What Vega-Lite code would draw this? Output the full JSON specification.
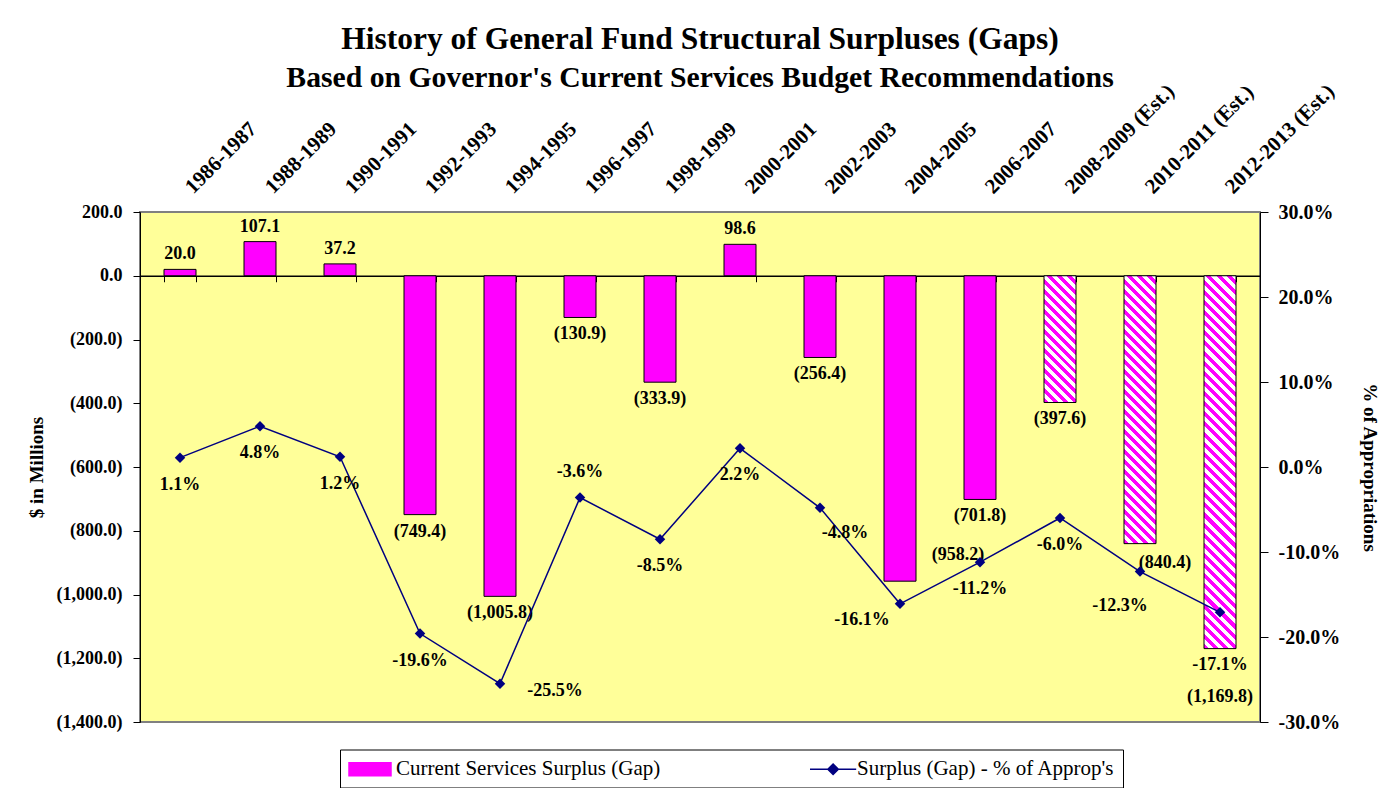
{
  "$schema": "https://vega.github.io/schema/vega-lite/v6.json",
  "width": 1120,
  "height": 510,
  "autosize": "none",
  "padding": {"left": 140, "top": 212, "right": 130, "bottom": 66},
  "background": "white",
  "title": {
    "text": "History of General Fund Structural Surpluses (Gaps)",
    "subtitle": "Based on Governor's Current Services Budget Recommendations",
    "font": "Liberation Serif", "fontSize": 31.5, "fontWeight": "bold", "color": "black",
    "subtitleFont": "Liberation Serif", "subtitleFontSize": 29.7, "subtitleFontWeight": "bold", "subtitleColor": "black",
    "subtitlePadding": 9, "anchor": "middle", "offset": -13
  },
  "data": {
    "values": [
      {"period": "1986-1987", "surplus": 20.0, "pct": 1.1},
      {"period": "1988-1989", "surplus": 107.1, "pct": 4.8},
      {"period": "1990-1991", "surplus": 37.2, "pct": 1.2},
      {"period": "1992-1993", "surplus": -749.4, "pct": -19.6},
      {"period": "1994-1995", "surplus": -1005.8, "pct": -25.5},
      {"period": "1996-1997", "surplus": -130.9, "pct": -3.6},
      {"period": "1998-1999", "surplus": -333.9, "pct": -8.5},
      {"period": "2000-2001", "surplus": 98.6, "pct": 2.2},
      {"period": "2002-2003", "surplus": -256.4, "pct": -4.8},
      {"period": "2004-2005", "surplus": -958.2, "pct": -16.1},
      {"period": "2006-2007", "surplus": -701.8, "pct": -11.2},
      {"period": "2008-2009 (Est.)", "surplus": -397.6, "pct": -6.0},
      {"period": "2010-2011 (Est.)", "surplus": -840.4, "pct": -12.3},
      {"period": "2012-2013 (Est.)", "surplus": -1169.8, "pct": -17.1}
    ]
  },
  "transform": [
    {"calculate": "datum.surplus < 0 ? '(' + format(-datum.surplus, ',.1f') + ')' : format(datum.surplus, ',.1f')", "as": "barLabel"},
    {"calculate": "(datum.pct < 0 ? '-' : '') + format(abs(datum.pct), '.1f') + '%'", "as": "pctLabel"}
  ],
  "layer": [
    {
      "encoding": {
        "x": {"field": "period", "type": "nominal", "sort": null, "scale": {"paddingInner": 0.6, "paddingOuter": 0.3}},
        "y": {"field": "surplus", "type": "quantitative", "scale": {"domain": [-1400, 200], "nice": false, "zero": false}}
      },
      "layer": [
        {
          "mark": {"type": "bar", "stroke": "black", "strokeWidth": 1},
          "encoding": {
            "x": {"field": "period", "type": "nominal", "sort": null,
              "scale": {"paddingInner": 0.6, "paddingOuter": 0.3},
              "axis": {"orient": "bottom", "offset": -446.25, "labels": false, "title": null,
                "domainColor": "black", "domainWidth": 1.5, "ticks": true, "tickColor": "black",
                "tickSize": 6, "tickBand": "extent", "grid": false}},
            "y": {"field": "surplus", "type": "quantitative",
              "scale": {"domain": [-1400, 200], "nice": false, "zero": false},
              "axis": {"orient": "left", "title": "$ in Millions",
                "values": [200, 0, -200, -400, -600, -800, -1000, -1200, -1400],
                "labelExpr": "datum.value < 0 ? '(' + format(-datum.value, ',.1f') + ')' : format(datum.value, ',.1f')",
                "tickSize": 7, "labelPadding": 11, "titlePadding": 10, "titleFontSize": 19,
                "domainColor": "black", "tickColor": "black", "grid": false}},
            "color": {
              "condition": [
                {"test": "datum.period === '2008-2009 (Est.)'", "value": {"gradient": "linear", "x1": 0, "y1": 1, "x2": 0.2973, "y2": -0.1774, "stops": [
                  {"offset":0,"color":"#f0f"},
                  {"offset":0.03125,"color":"#f0f"},{"offset":0.03125,"color":"#fff"},
                  {"offset":0.0625,"color":"#fff"},{"offset":0.0625,"color":"#f0f"},
                  {"offset":0.09375,"color":"#f0f"},{"offset":0.09375,"color":"#fff"},
                  {"offset":0.125,"color":"#fff"},{"offset":0.125,"color":"#f0f"},
                  {"offset":0.15625,"color":"#f0f"},{"offset":0.15625,"color":"#fff"},
                  {"offset":0.1875,"color":"#fff"},{"offset":0.1875,"color":"#f0f"},
                  {"offset":0.21875,"color":"#f0f"},{"offset":0.21875,"color":"#fff"},
                  {"offset":0.25,"color":"#fff"},{"offset":0.25,"color":"#f0f"},
                  {"offset":0.28125,"color":"#f0f"},{"offset":0.28125,"color":"#fff"},
                  {"offset":0.3125,"color":"#fff"},{"offset":0.3125,"color":"#f0f"},
                  {"offset":0.34375,"color":"#f0f"},{"offset":0.34375,"color":"#fff"},
                  {"offset":0.375,"color":"#fff"},{"offset":0.375,"color":"#f0f"},
                  {"offset":0.40625,"color":"#f0f"},{"offset":0.40625,"color":"#fff"},
                  {"offset":0.4375,"color":"#fff"},{"offset":0.4375,"color":"#f0f"},
                  {"offset":0.46875,"color":"#f0f"},{"offset":0.46875,"color":"#fff"},
                  {"offset":0.5,"color":"#fff"},{"offset":0.5,"color":"#f0f"},
                  {"offset":0.53125,"color":"#f0f"},{"offset":0.53125,"color":"#fff"},
                  {"offset":0.5625,"color":"#fff"},{"offset":0.5625,"color":"#f0f"},
                  {"offset":0.59375,"color":"#f0f"},{"offset":0.59375,"color":"#fff"},
                  {"offset":0.625,"color":"#fff"},{"offset":0.625,"color":"#f0f"},
                  {"offset":0.65625,"color":"#f0f"},{"offset":0.65625,"color":"#fff"},
                  {"offset":0.6875,"color":"#fff"},{"offset":0.6875,"color":"#f0f"},
                  {"offset":0.71875,"color":"#f0f"},{"offset":0.71875,"color":"#fff"},
                  {"offset":0.75,"color":"#fff"},{"offset":0.75,"color":"#f0f"},
                  {"offset":0.78125,"color":"#f0f"},{"offset":0.78125,"color":"#fff"},
                  {"offset":0.8125,"color":"#fff"},{"offset":0.8125,"color":"#f0f"},
                  {"offset":0.84375,"color":"#f0f"},{"offset":0.84375,"color":"#fff"},
                  {"offset":0.875,"color":"#fff"},{"offset":0.875,"color":"#f0f"},
                  {"offset":0.90625,"color":"#f0f"},{"offset":0.90625,"color":"#fff"},
                  {"offset":0.9375,"color":"#fff"},{"offset":0.9375,"color":"#f0f"},
                  {"offset":0.96875,"color":"#f0f"},{"offset":0.96875,"color":"#fff"},
                  {"offset":1,"color":"#fff"}]}},
                {"test": "datum.period === '2010-2011 (Est.)'", "value": {"gradient": "linear", "x1": 0, "y1": 1, "x2": 0.13185, "y2": -0.10371, "stops": [
                  {"offset":0,"color":"#f0f"},
                  {"offset":0.0167,"color":"#f0f"},{"offset":0.0167,"color":"#fff"},
                  {"offset":0.0333,"color":"#fff"},{"offset":0.0333,"color":"#f0f"},
                  {"offset":0.05,"color":"#f0f"},{"offset":0.05,"color":"#fff"},
                  {"offset":0.0667,"color":"#fff"},{"offset":0.0667,"color":"#f0f"},
                  {"offset":0.0833,"color":"#f0f"},{"offset":0.0833,"color":"#fff"},
                  {"offset":0.1,"color":"#fff"},{"offset":0.1,"color":"#f0f"},
                  {"offset":0.1167,"color":"#f0f"},{"offset":0.1167,"color":"#fff"},
                  {"offset":0.1333,"color":"#fff"},{"offset":0.1333,"color":"#f0f"},
                  {"offset":0.15,"color":"#f0f"},{"offset":0.15,"color":"#fff"},
                  {"offset":0.1667,"color":"#fff"},{"offset":0.1667,"color":"#f0f"},
                  {"offset":0.1833,"color":"#f0f"},{"offset":0.1833,"color":"#fff"},
                  {"offset":0.2,"color":"#fff"},{"offset":0.2,"color":"#f0f"},
                  {"offset":0.2167,"color":"#f0f"},{"offset":0.2167,"color":"#fff"},
                  {"offset":0.2333,"color":"#fff"},{"offset":0.2333,"color":"#f0f"},
                  {"offset":0.25,"color":"#f0f"},{"offset":0.25,"color":"#fff"},
                  {"offset":0.2667,"color":"#fff"},{"offset":0.2667,"color":"#f0f"},
                  {"offset":0.2833,"color":"#f0f"},{"offset":0.2833,"color":"#fff"},
                  {"offset":0.3,"color":"#fff"},{"offset":0.3,"color":"#f0f"},
                  {"offset":0.3167,"color":"#f0f"},{"offset":0.3167,"color":"#fff"},
                  {"offset":0.3333,"color":"#fff"},{"offset":0.3333,"color":"#f0f"},
                  {"offset":0.35,"color":"#f0f"},{"offset":0.35,"color":"#fff"},
                  {"offset":0.3667,"color":"#fff"},{"offset":0.3667,"color":"#f0f"},
                  {"offset":0.3833,"color":"#f0f"},{"offset":0.3833,"color":"#fff"},
                  {"offset":0.4,"color":"#fff"},{"offset":0.4,"color":"#f0f"},
                  {"offset":0.4167,"color":"#f0f"},{"offset":0.4167,"color":"#fff"},
                  {"offset":0.4333,"color":"#fff"},{"offset":0.4333,"color":"#f0f"},
                  {"offset":0.45,"color":"#f0f"},{"offset":0.45,"color":"#fff"},
                  {"offset":0.4667,"color":"#fff"},{"offset":0.4667,"color":"#f0f"},
                  {"offset":0.4833,"color":"#f0f"},{"offset":0.4833,"color":"#fff"},
                  {"offset":0.5,"color":"#fff"},{"offset":0.5,"color":"#f0f"},
                  {"offset":0.5167,"color":"#f0f"},{"offset":0.5167,"color":"#fff"},
                  {"offset":0.5333,"color":"#fff"},{"offset":0.5333,"color":"#f0f"},
                  {"offset":0.55,"color":"#f0f"},{"offset":0.55,"color":"#fff"},
                  {"offset":0.5667,"color":"#fff"},{"offset":0.5667,"color":"#f0f"},
                  {"offset":0.5833,"color":"#f0f"},{"offset":0.5833,"color":"#fff"},
                  {"offset":0.6,"color":"#fff"},{"offset":0.6,"color":"#f0f"},
                  {"offset":0.6167,"color":"#f0f"},{"offset":0.6167,"color":"#fff"},
                  {"offset":0.6333,"color":"#fff"},{"offset":0.6333,"color":"#f0f"},
                  {"offset":0.65,"color":"#f0f"},{"offset":0.65,"color":"#fff"},
                  {"offset":0.6667,"color":"#fff"},{"offset":0.6667,"color":"#f0f"},
                  {"offset":0.6833,"color":"#f0f"},{"offset":0.6833,"color":"#fff"},
                  {"offset":0.7,"color":"#fff"},{"offset":0.7,"color":"#f0f"},
                  {"offset":0.7167,"color":"#f0f"},{"offset":0.7167,"color":"#fff"},
                  {"offset":0.7333,"color":"#fff"},{"offset":0.7333,"color":"#f0f"},
                  {"offset":0.75,"color":"#f0f"},{"offset":0.75,"color":"#fff"},
                  {"offset":0.7667,"color":"#fff"},{"offset":0.7667,"color":"#f0f"},
                  {"offset":0.7833,"color":"#f0f"},{"offset":0.7833,"color":"#fff"},
                  {"offset":0.8,"color":"#fff"},{"offset":0.8,"color":"#f0f"},
                  {"offset":0.8167,"color":"#f0f"},{"offset":0.8167,"color":"#fff"},
                  {"offset":0.8333,"color":"#fff"},{"offset":0.8333,"color":"#f0f"},
                  {"offset":0.85,"color":"#f0f"},{"offset":0.85,"color":"#fff"},
                  {"offset":0.8667,"color":"#fff"},{"offset":0.8667,"color":"#f0f"},
                  {"offset":0.8833,"color":"#f0f"},{"offset":0.8833,"color":"#fff"},
                  {"offset":0.9,"color":"#fff"},{"offset":0.9,"color":"#f0f"},
                  {"offset":0.9167,"color":"#f0f"},{"offset":0.9167,"color":"#fff"},
                  {"offset":0.9333,"color":"#fff"},{"offset":0.9333,"color":"#f0f"},
                  {"offset":0.95,"color":"#f0f"},{"offset":0.95,"color":"#fff"},
                  {"offset":0.9667,"color":"#fff"},{"offset":0.9667,"color":"#f0f"},
                  {"offset":0.9833,"color":"#f0f"},{"offset":0.9833,"color":"#fff"},
                  {"offset":1,"color":"#fff"}]}},
                {"test": "datum.period === '2012-2013 (Est.)'", "value": {"gradient": "linear", "x1": 0, "y1": 1, "x2": 0.0925, "y2": -0.07789, "stops": [
                  {"offset":0,"color":"#f0f"},
                  {"offset":0.0125,"color":"#f0f"},{"offset":0.0125,"color":"#fff"},
                  {"offset":0.025,"color":"#fff"},{"offset":0.025,"color":"#f0f"},
                  {"offset":0.0375,"color":"#f0f"},{"offset":0.0375,"color":"#fff"},
                  {"offset":0.05,"color":"#fff"},{"offset":0.05,"color":"#f0f"},
                  {"offset":0.0625,"color":"#f0f"},{"offset":0.0625,"color":"#fff"},
                  {"offset":0.075,"color":"#fff"},{"offset":0.075,"color":"#f0f"},
                  {"offset":0.0875,"color":"#f0f"},{"offset":0.0875,"color":"#fff"},
                  {"offset":0.1,"color":"#fff"},{"offset":0.1,"color":"#f0f"},
                  {"offset":0.1125,"color":"#f0f"},{"offset":0.1125,"color":"#fff"},
                  {"offset":0.125,"color":"#fff"},{"offset":0.125,"color":"#f0f"},
                  {"offset":0.1375,"color":"#f0f"},{"offset":0.1375,"color":"#fff"},
                  {"offset":0.15,"color":"#fff"},{"offset":0.15,"color":"#f0f"},
                  {"offset":0.1625,"color":"#f0f"},{"offset":0.1625,"color":"#fff"},
                  {"offset":0.175,"color":"#fff"},{"offset":0.175,"color":"#f0f"},
                  {"offset":0.1875,"color":"#f0f"},{"offset":0.1875,"color":"#fff"},
                  {"offset":0.2,"color":"#fff"},{"offset":0.2,"color":"#f0f"},
                  {"offset":0.2125,"color":"#f0f"},{"offset":0.2125,"color":"#fff"},
                  {"offset":0.225,"color":"#fff"},{"offset":0.225,"color":"#f0f"},
                  {"offset":0.2375,"color":"#f0f"},{"offset":0.2375,"color":"#fff"},
                  {"offset":0.25,"color":"#fff"},{"offset":0.25,"color":"#f0f"},
                  {"offset":0.2625,"color":"#f0f"},{"offset":0.2625,"color":"#fff"},
                  {"offset":0.275,"color":"#fff"},{"offset":0.275,"color":"#f0f"},
                  {"offset":0.2875,"color":"#f0f"},{"offset":0.2875,"color":"#fff"},
                  {"offset":0.3,"color":"#fff"},{"offset":0.3,"color":"#f0f"},
                  {"offset":0.3125,"color":"#f0f"},{"offset":0.3125,"color":"#fff"},
                  {"offset":0.325,"color":"#fff"},{"offset":0.325,"color":"#f0f"},
                  {"offset":0.3375,"color":"#f0f"},{"offset":0.3375,"color":"#fff"},
                  {"offset":0.35,"color":"#fff"},{"offset":0.35,"color":"#f0f"},
                  {"offset":0.3625,"color":"#f0f"},{"offset":0.3625,"color":"#fff"},
                  {"offset":0.375,"color":"#fff"},{"offset":0.375,"color":"#f0f"},
                  {"offset":0.3875,"color":"#f0f"},{"offset":0.3875,"color":"#fff"},
                  {"offset":0.4,"color":"#fff"},{"offset":0.4,"color":"#f0f"},
                  {"offset":0.4125,"color":"#f0f"},{"offset":0.4125,"color":"#fff"},
                  {"offset":0.425,"color":"#fff"},{"offset":0.425,"color":"#f0f"},
                  {"offset":0.4375,"color":"#f0f"},{"offset":0.4375,"color":"#fff"},
                  {"offset":0.45,"color":"#fff"},{"offset":0.45,"color":"#f0f"},
                  {"offset":0.4625,"color":"#f0f"},{"offset":0.4625,"color":"#fff"},
                  {"offset":0.475,"color":"#fff"},{"offset":0.475,"color":"#f0f"},
                  {"offset":0.4875,"color":"#f0f"},{"offset":0.4875,"color":"#fff"},
                  {"offset":0.5,"color":"#fff"},{"offset":0.5,"color":"#f0f"},
                  {"offset":0.5125,"color":"#f0f"},{"offset":0.5125,"color":"#fff"},
                  {"offset":0.525,"color":"#fff"},{"offset":0.525,"color":"#f0f"},
                  {"offset":0.5375,"color":"#f0f"},{"offset":0.5375,"color":"#fff"},
                  {"offset":0.55,"color":"#fff"},{"offset":0.55,"color":"#f0f"},
                  {"offset":0.5625,"color":"#f0f"},{"offset":0.5625,"color":"#fff"},
                  {"offset":0.575,"color":"#fff"},{"offset":0.575,"color":"#f0f"},
                  {"offset":0.5875,"color":"#f0f"},{"offset":0.5875,"color":"#fff"},
                  {"offset":0.6,"color":"#fff"},{"offset":0.6,"color":"#f0f"},
                  {"offset":0.6125,"color":"#f0f"},{"offset":0.6125,"color":"#fff"},
                  {"offset":0.625,"color":"#fff"},{"offset":0.625,"color":"#f0f"},
                  {"offset":0.6375,"color":"#f0f"},{"offset":0.6375,"color":"#fff"},
                  {"offset":0.65,"color":"#fff"},{"offset":0.65,"color":"#f0f"},
                  {"offset":0.6625,"color":"#f0f"},{"offset":0.6625,"color":"#fff"},
                  {"offset":0.675,"color":"#fff"},{"offset":0.675,"color":"#f0f"},
                  {"offset":0.6875,"color":"#f0f"},{"offset":0.6875,"color":"#fff"},
                  {"offset":0.7,"color":"#fff"},{"offset":0.7,"color":"#f0f"},
                  {"offset":0.7125,"color":"#f0f"},{"offset":0.7125,"color":"#fff"},
                  {"offset":0.725,"color":"#fff"},{"offset":0.725,"color":"#f0f"},
                  {"offset":0.7375,"color":"#f0f"},{"offset":0.7375,"color":"#fff"},
                  {"offset":0.75,"color":"#fff"},{"offset":0.75,"color":"#f0f"},
                  {"offset":0.7625,"color":"#f0f"},{"offset":0.7625,"color":"#fff"},
                  {"offset":0.775,"color":"#fff"},{"offset":0.775,"color":"#f0f"},
                  {"offset":0.7875,"color":"#f0f"},{"offset":0.7875,"color":"#fff"},
                  {"offset":0.8,"color":"#fff"},{"offset":0.8,"color":"#f0f"},
                  {"offset":0.8125,"color":"#f0f"},{"offset":0.8125,"color":"#fff"},
                  {"offset":0.825,"color":"#fff"},{"offset":0.825,"color":"#f0f"},
                  {"offset":0.8375,"color":"#f0f"},{"offset":0.8375,"color":"#fff"},
                  {"offset":0.85,"color":"#fff"},{"offset":0.85,"color":"#f0f"},
                  {"offset":0.8625,"color":"#f0f"},{"offset":0.8625,"color":"#fff"},
                  {"offset":0.875,"color":"#fff"},{"offset":0.875,"color":"#f0f"},
                  {"offset":0.8875,"color":"#f0f"},{"offset":0.8875,"color":"#fff"},
                  {"offset":0.9,"color":"#fff"},{"offset":0.9,"color":"#f0f"},
                  {"offset":0.9125,"color":"#f0f"},{"offset":0.9125,"color":"#fff"},
                  {"offset":0.925,"color":"#fff"},{"offset":0.925,"color":"#f0f"},
                  {"offset":0.9375,"color":"#f0f"},{"offset":0.9375,"color":"#fff"},
                  {"offset":0.95,"color":"#fff"},{"offset":0.95,"color":"#f0f"},
                  {"offset":0.9625,"color":"#f0f"},{"offset":0.9625,"color":"#fff"},
                  {"offset":0.975,"color":"#fff"},{"offset":0.975,"color":"#f0f"},
                  {"offset":0.9875,"color":"#f0f"},{"offset":0.9875,"color":"#fff"},
                  {"offset":1,"color":"#fff"}]}}
              ],
              "datum": "Current Services Surplus (Gap)",
              "scale": {"domain": ["Current Services Surplus (Gap)", "Surplus (Gap) - % of Approp's"], "range": ["#ff00ff", "#000080"]},
              "legend": {
                "title": null, "orient": "none", "legendX": 200, "legendY": 537.5, "direction": "horizontal",
                "strokeColor": "black", "fillColor": "white", "padding": 8, "columnPadding": 146,
                "labelFont": "Liberation Serif", "labelFontSize": 21, "labelFontWeight": "normal", "labelColor": "black",
                "labelOffset": 25, "labelLimit": 600, "symbolSize": 441,
                "symbolType": "M-1,-0.62H3V0.62H-1Z", "symbolStrokeWidth": 1.5
              }
            }
          }
        },
        {
          "transform": [{"filter": "datum.surplus >= 0"}],
          "mark": {"type": "text", "baseline": "bottom", "dy": -6, "font": "Liberation Serif", "fontSize": 18, "fontWeight": "bold", "color": "black"},
          "encoding": {"text": {"field": "barLabel"}}
        },
        {
          "transform": [{"filter": "datum.surplus < 0 && indexof(['2004-2005', '2010-2011 (Est.)', '2012-2013 (Est.)'], datum.period) < 0"}],
          "mark": {"type": "text", "baseline": "top", "dy": 8, "font": "Liberation Serif", "fontSize": 18, "fontWeight": "bold", "color": "black"},
          "encoding": {"text": {"field": "barLabel"}}
        },
        {
          "transform": [{"filter": "datum.period === '2004-2005'"}],
          "mark": {"type": "text", "baseline": "middle", "dx": 58, "dy": -26, "font": "Liberation Serif", "fontSize": 18, "fontWeight": "bold", "color": "black"},
          "encoding": {"text": {"field": "barLabel"}}
        },
        {
          "transform": [{"filter": "datum.period === '2010-2011 (Est.)'"}],
          "mark": {"type": "text", "baseline": "middle", "dx": 25, "dy": 19, "font": "Liberation Serif", "fontSize": 18, "fontWeight": "bold", "color": "black"},
          "encoding": {"text": {"field": "barLabel"}}
        },
        {
          "transform": [{"filter": "datum.period === '2012-2013 (Est.)'"}],
          "mark": {"type": "text", "baseline": "middle", "dy": 48, "font": "Liberation Serif", "fontSize": 18, "fontWeight": "bold", "color": "black"},
          "encoding": {"text": {"field": "barLabel"}}
        }
      ]
    },
    {
      "encoding": {
        "x": {"field": "period", "type": "nominal", "sort": null, "scale": {"paddingInner": 0.6, "paddingOuter": 0.3}},
        "y": {"field": "pct", "type": "quantitative", "scale": {"domain": [-30, 30], "nice": false, "zero": false}}
      },
      "layer": [
        {
          "mark": {"type": "line", "strokeWidth": 1.5, "point": {"filled": true, "shape": "diamond", "size": 110}},
          "encoding": {
            "x": {"field": "period", "type": "nominal", "sort": null,
              "scale": {"paddingInner": 0.6, "paddingOuter": 0.3},
              "axis": {"orient": "top", "title": null, "labelAngle": -45, "labelAlign": "left", "labelBaseline": "middle",
                "ticks": false, "domain": false, "labelPadding": 22, "labelOffset": 9, "labelFontSize": 21, "grid": false}},
            "y": {"field": "pct", "type": "quantitative",
              "scale": {"domain": [-30, 30], "nice": false, "zero": false},
              "axis": {"orient": "right", "title": "% of Appropriations",
                "values": [30, 20, 10, 0, -10, -20, -30],
                "labelExpr": "(datum.value < 0 ? '-' : '') + format(abs(datum.value), '.1f') + '%'",
                "tickSize": 8, "labelPadding": 10, "titlePadding": 20, "labelFontSize": 20, "titleFontSize": 19,
                "domainColor": "black", "tickColor": "black", "grid": false}},
            "color": {"datum": "Surplus (Gap) - % of Approp's",
              "scale": {"domain": ["Current Services Surplus (Gap)", "Surplus (Gap) - % of Approp's"], "range": ["#ff00ff", "#000080"]}}
          }
        },
        {
          "mark": {"type": "point", "size": 0, "filled": true},
          "encoding": {
            "shape": {"datum": "Surplus (Gap) - % of Approp's",
              "scale": {"domain": ["Current Services Surplus (Gap)", "Surplus (Gap) - % of Approp's"],
                "range": ["M-1,-0.62H3V0.62H-1Z", "M-1,0H3.4M1.2,-0.5L1.7,0L1.2,0.5L0.7,0Z"]},
              "legend": {
                "title": null, "orient": "none", "legendX": 200, "legendY": 537.5, "direction": "horizontal",
                "strokeColor": "black", "fillColor": "white", "padding": 8, "columnPadding": 146,
                "labelFont": "Liberation Serif", "labelFontSize": 21, "labelFontWeight": "normal", "labelColor": "black",
                "labelOffset": 25, "labelLimit": 600, "symbolSize": 441, "symbolStrokeWidth": 1.5
              }
            }
          }
        },
        {
          "transform": [{"filter": "indexof(['1994-1995', '1996-1997', '2002-2003', '2004-2005', '2010-2011 (Est.)', '2012-2013 (Est.)'], datum.period) < 0"}],
          "mark": {"type": "text", "baseline": "middle", "dy": 27, "font": "Liberation Serif", "fontSize": 18, "fontWeight": "bold", "color": "black"},
          "encoding": {"text": {"field": "pctLabel"}}
        },
        {
          "transform": [{"filter": "datum.period === '1994-1995'"}],
          "mark": {"type": "text", "baseline": "middle", "dx": 55, "dy": 7, "font": "Liberation Serif", "fontSize": 18, "fontWeight": "bold", "color": "black"},
          "encoding": {"text": {"field": "pctLabel"}}
        },
        {
          "transform": [{"filter": "datum.period === '1996-1997'"}],
          "mark": {"type": "text", "baseline": "middle", "dy": -26, "font": "Liberation Serif", "fontSize": 18, "fontWeight": "bold", "color": "black"},
          "encoding": {"text": {"field": "pctLabel"}}
        },
        {
          "transform": [{"filter": "datum.period === '2002-2003'"}],
          "mark": {"type": "text", "baseline": "middle", "dx": 25, "dy": 25, "font": "Liberation Serif", "fontSize": 18, "fontWeight": "bold", "color": "black"},
          "encoding": {"text": {"field": "pctLabel"}}
        },
        {
          "transform": [{"filter": "datum.period === '2004-2005'"}],
          "mark": {"type": "text", "baseline": "middle", "dx": -38, "dy": 16, "font": "Liberation Serif", "fontSize": 18, "fontWeight": "bold", "color": "black"},
          "encoding": {"text": {"field": "pctLabel"}}
        },
        {
          "transform": [{"filter": "datum.period === '2010-2011 (Est.)'"}],
          "mark": {"type": "text", "baseline": "middle", "dx": -20, "dy": 34, "font": "Liberation Serif", "fontSize": 18, "fontWeight": "bold", "color": "black"},
          "encoding": {"text": {"field": "pctLabel"}}
        },
        {
          "transform": [{"filter": "datum.period === '2012-2013 (Est.)'"}],
          "mark": {"type": "text", "baseline": "middle", "dy": 53, "font": "Liberation Serif", "fontSize": 18, "fontWeight": "bold", "color": "black"},
          "encoding": {"text": {"field": "pctLabel"}}
        }
      ]
    }
  ],
  "resolve": {"scale": {"y": "independent"}, "axis": {"x": "independent", "y": "independent"}},
  "config": {
    "view": {"fill": "#FFFF99", "stroke": "#808080", "strokeWidth": 2},
    "axis": {
      "labelFont": "Liberation Serif", "titleFont": "Liberation Serif",
      "labelFontSize": 18, "labelFontWeight": "bold", "labelColor": "black",
      "titleFontSize": 18, "titleFontWeight": "bold", "titleColor": "black", "grid": false
    },
    "text": {"font": "Liberation Serif"}
  }
}
